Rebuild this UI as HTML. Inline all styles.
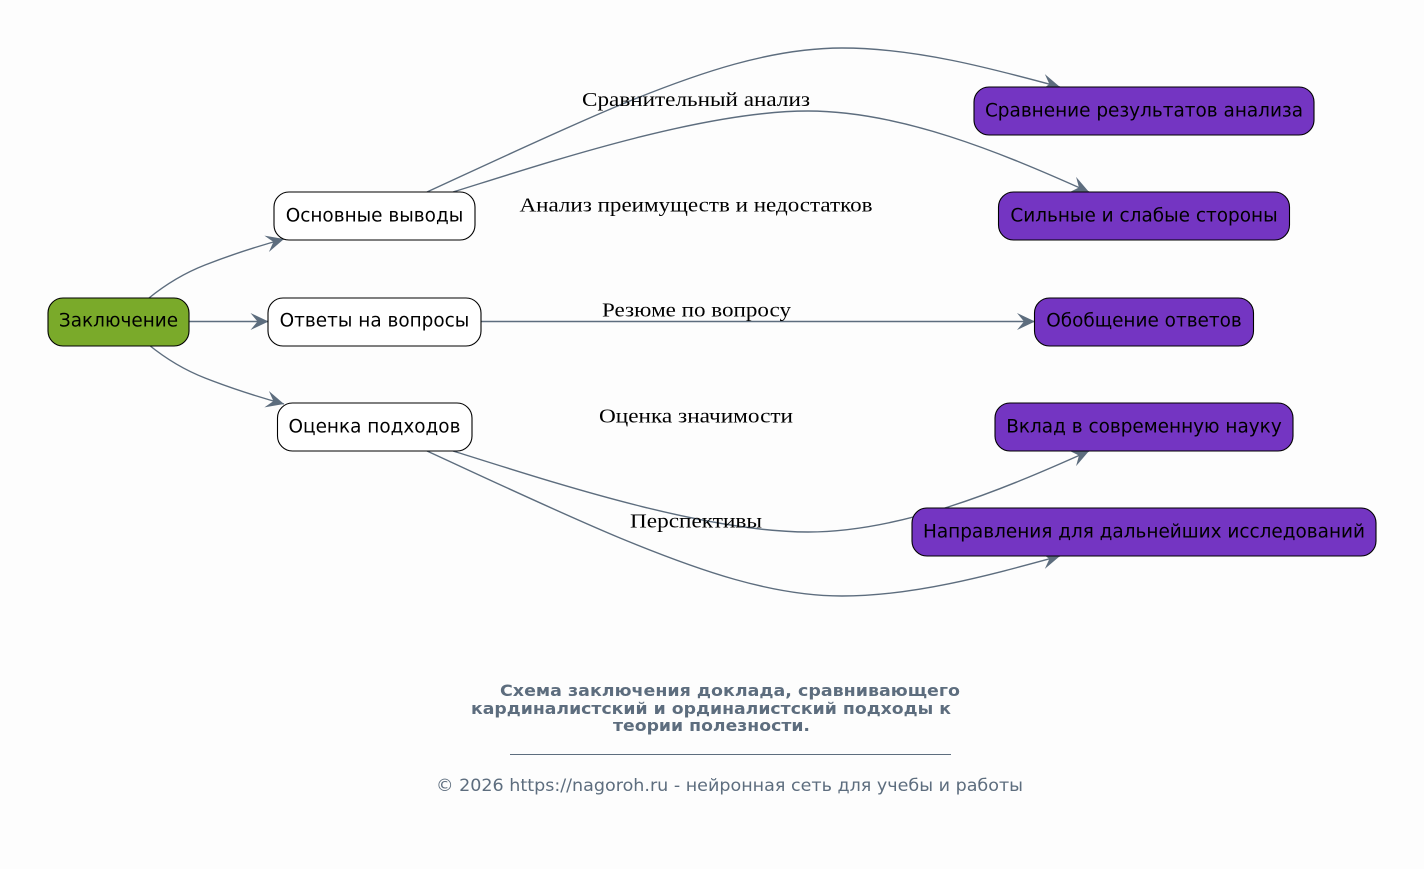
<!DOCTYPE html>
<html><head><meta charset="utf-8"><style>
html,body{margin:0;padding:0;background:#fdfdfd}
svg{display:block}
.n{font-family:"DejaVu Sans",sans-serif;font-size:18.45px;fill:#000;text-anchor:middle}
.l{font-family:"Liberation Serif",serif;font-size:20px;fill:#000;text-anchor:middle}
.e{fill:none;stroke:#5d6d7e;stroke-width:1.4;marker-end:url(#v)}
.b{stroke:#000;stroke-width:1.1}
.w{fill:#fff}.p{fill:#7435c2}.g{fill:#7aaa2a}
</style></head><body>
<svg width="1424" height="869" viewBox="0 0 1424 869" xmlns="http://www.w3.org/2000/svg">
<defs><marker id="v" markerUnits="userSpaceOnUse" markerWidth="20" markerHeight="20" refX="18" refY="10" orient="auto" overflow="visible"><polygon points="18,10 0,1.5 7,10 0,18.5" fill="#5d6d7e"/></marker></defs>
<rect width="1424" height="869" fill="#fdfdfd"/>
<path class="e" d="M149,298C165,285 182,274 205,265C228,256 255,247 284,239"/>
<path class="e" d="M189,321.5L268.5,321.5"/>
<path class="e" d="M149,345C165,358 182,369 205,378C228,387 255,396 284,404"/>
<path class="e" d="M427,192C490,163 560,130 620,105C700,72 772,48 842,48C915,48 990,68 1060,87"/>
<path class="e" d="M453,192C540,165 700,111 808,111C900,111 1000,152 1089,192"/>
<path class="e" d="M481,321.5L1035,321.5"/>
<path class="e" d="M453,451C540,478 700,532 808,532C900,532 1000,491 1089,451"/>
<path class="e" d="M427,451C490,480 560,513 620,538C700,571 772,596 842,596C915,596 990,575 1060,556"/>
<rect class="b g" x="48" y="298" width="141" height="48" rx="15"/>
<rect class="b w" x="274" y="192" width="201" height="48" rx="15"/>
<rect class="b w" x="268" y="298" width="213" height="48" rx="15"/>
<rect class="b w" x="277.500" y="403" width="194.500" height="48" rx="15"/>
<rect class="b p" x="974" y="87" width="340" height="48" rx="15"/>
<rect class="b p" x="998.500" y="192" width="291" height="48" rx="15"/>
<rect class="b p" x="1034.500" y="298" width="219" height="48" rx="15"/>
<rect class="b p" x="995" y="403" width="298" height="48" rx="15"/>
<rect class="b p" x="912" y="508" width="464" height="48" rx="15"/>
<text class="n" x="118.500" y="326.500">Заключение</text>
<text class="n" x="374.500" y="221.500">Основные выводы</text>
<text class="n" x="374.500" y="326.500">Ответы на вопросы</text>
<text class="n" x="374.500" y="432.500">Оценка подходов</text>
<text class="n" x="1144" y="116.500">Сравнение результатов анализа</text>
<text class="n" x="1144" y="221.500">Сильные и слабые стороны</text>
<text class="n" x="1144" y="326.500">Обобщение ответов</text>
<text class="n" x="1144" y="432.500">Вклад в современную науку</text>
<text class="n" x="1144" y="537.500">Направления для дальнейших исследований</text>
<text class="l" x="696" y="106" textLength="228" lengthAdjust="spacingAndGlyphs">Сравнительный анализ</text>
<text class="l" x="696" y="211.500" textLength="353" lengthAdjust="spacingAndGlyphs">Анализ преимуществ и недостатков</text>
<text class="l" x="696.500" y="316.500" textLength="189" lengthAdjust="spacingAndGlyphs">Резюме по вопросу</text>
<text class="l" x="696" y="422.500" textLength="194" lengthAdjust="spacingAndGlyphs">Оценка значимости</text>
<text class="l" x="696" y="527.500" textLength="132" lengthAdjust="spacingAndGlyphs">Перспективы</text>
<g font-family="'DejaVu Sans',sans-serif" font-size="16px" font-weight="bold" fill="#5d6d7e">
<text x="500" y="696" textLength="460" lengthAdjust="spacingAndGlyphs">Схема заключения доклада, сравнивающего</text>
<text x="471" y="714" textLength="480" lengthAdjust="spacingAndGlyphs">кардиналистский и ординалистский подходы к</text>
<text x="613" y="731" textLength="197" lengthAdjust="spacingAndGlyphs">теории полезности.</text>
</g>
<line x1="510" y1="754.500" x2="951" y2="754.500" stroke="#5d6d7e" stroke-width="1"/>
<text x="436" y="791" font-family="'DejaVu Sans',sans-serif" font-size="17px" fill="#5d6d7e" textLength="587" lengthAdjust="spacingAndGlyphs">© 2026 https://nagoroh.ru - нейронная сеть для учебы и работы</text>
</svg>
</body></html>
